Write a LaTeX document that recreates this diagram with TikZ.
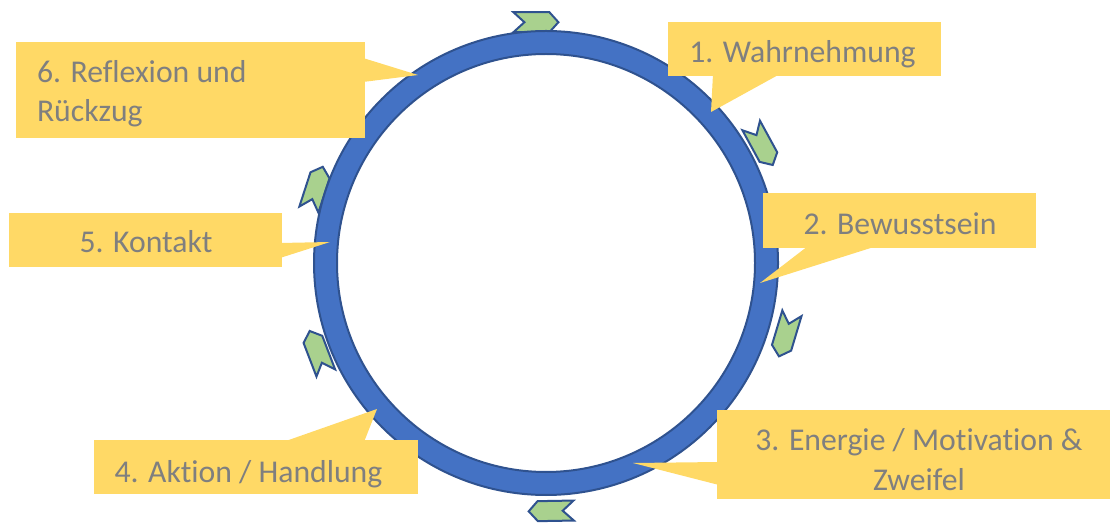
\documentclass[tikz,border=0pt]{standalone}
\usepackage{fontspec}
\setmainfont{Carlito}[Ligatures={NoCommon}]
\usetikzlibrary{calc}
\definecolor{ringblue}{HTML}{4472C4}
\definecolor{ringedge}{HTML}{2F528F}
\definecolor{chevgreen}{HTML}{A9D18E}
\definecolor{calloutyellow}{HTML}{FFD966}
\definecolor{labelgray}{HTML}{7F7F7F}
\tikzset{
  chev/.pic={\filldraw[fill=chevgreen, draw=ringedge, line width=2pt, line join=miter]
     (-22.5,10) -- (13.5,10) -- (22.5,0) -- (13.5,-10) -- (-22.5,-10) -- (-11.5,0) -- cycle;},
  callbox/.style={fill=calloutyellow, draw=none, inner sep=0, outer sep=0, anchor=south west},
  pointer/.style={fill=calloutyellow, draw=none},
  lbl/.style={text=labelgray, font=\fontsize{31.7}{38.7}\selectfont, inner sep=0, outer sep=0}
}
\begin{document}
\begin{tikzpicture}[x=1pt,y=1pt]
\useasboundingbox (0,0) rectangle (1110,522);
\coordinate (C) at (546,259);
% chevrons
\pic[rotate=0]    at ($(C)+(92.4:241)$)  {chev};
\pic[rotate=-61.4] at ($(C)+(28.6:246)$) {chev};
\pic[rotate=-106.7] at ($(C)+(-16.7:250)$) {chev};
\pic[rotate=181]  at ($(C)+(-88.8:248)$) {chev};
\pic[rotate=111]  at ($(C)+(201.3:245)$) {chev};
\pic[rotate=72]   at ($(C)+(162:242)$)   {chev};
% ring
\fill[ringblue, even odd rule] (C) circle (232) (C) circle (209);
\draw[ringedge, line width=2pt] (C) circle (232) (C) circle (209);
% callout 1
\node[callbox, minimum width=273, minimum height=54] (box1) at (668,446) {};
\coordinate (p1a) at (713,448); \coordinate (p1b) at (780,448); \coordinate (t1) at (711,410);
\fill[pointer] (p1a) -- (p1b) -- (t1) -- cycle;
\node[lbl, anchor=base] (l1) at (802.5,459) {1. Wahrnehmung};
% callout 2
\node[callbox, minimum width=273, minimum height=55] (box2) at (763,274) {};
\coordinate (p2a) at (808,276); \coordinate (p2b) at (877,276); \coordinate (t2) at (760,239);
\fill[pointer] (p2a) -- (p2b) -- (t2) -- cycle;
\node[lbl, anchor=base] (l2) at (900,287) {2. Bewusstsein};
% callout 3
\node[callbox, minimum width=400, minimum height=89] (box3) at (717,23) {};
\coordinate (p3a) at (719,60); \coordinate (p3b) at (719,37); \coordinate (t3) at (633,59);
\fill[pointer] (p3a) -- (p3b) -- (t3) -- cycle;
\node[lbl, anchor=base] (l3a) at (919,72) {3. Energie / Motivation \&};
\node[lbl, anchor=base] (l3b) at (919,32) {Zweifel};
% callout 4
\node[callbox, minimum width=324, minimum height=54] (box4) at (94,28) {};
\coordinate (p4a) at (283,80); \coordinate (p4b) at (364,80); \coordinate (t4) at (377,113);
\fill[pointer] (p4a) -- (p4b) -- (t4) -- cycle;
\node[lbl, anchor=base] (l4) at (248.5,40) {4. Aktion / Handlung};
% callout 5
\node[callbox, minimum width=273, minimum height=54] (box5) at (9,255) {};
\coordinate (p5a) at (280,279); \coordinate (p5b) at (280,264); \coordinate (t5) at (330,280);
\fill[pointer] (p5a) -- (p5b) -- (t5) -- cycle;
\node[lbl, anchor=base] (l5) at (146,269) {5. Kontakt};
% callout 6
\node[callbox, minimum width=349, minimum height=96] (box6) at (16,384) {};
\coordinate (p6a) at (363,464); \coordinate (p6b) at (363,440); \coordinate (t6) at (418,447);
\fill[pointer] (p6a) -- (p6b) -- (t6) -- cycle;
\node[lbl, anchor=base west] (l6a) at (37,439) {6. Reflexion und};
\node[lbl, anchor=base west] (l6b) at (37,400) {Rückzug};
\end{tikzpicture}
\end{document}
